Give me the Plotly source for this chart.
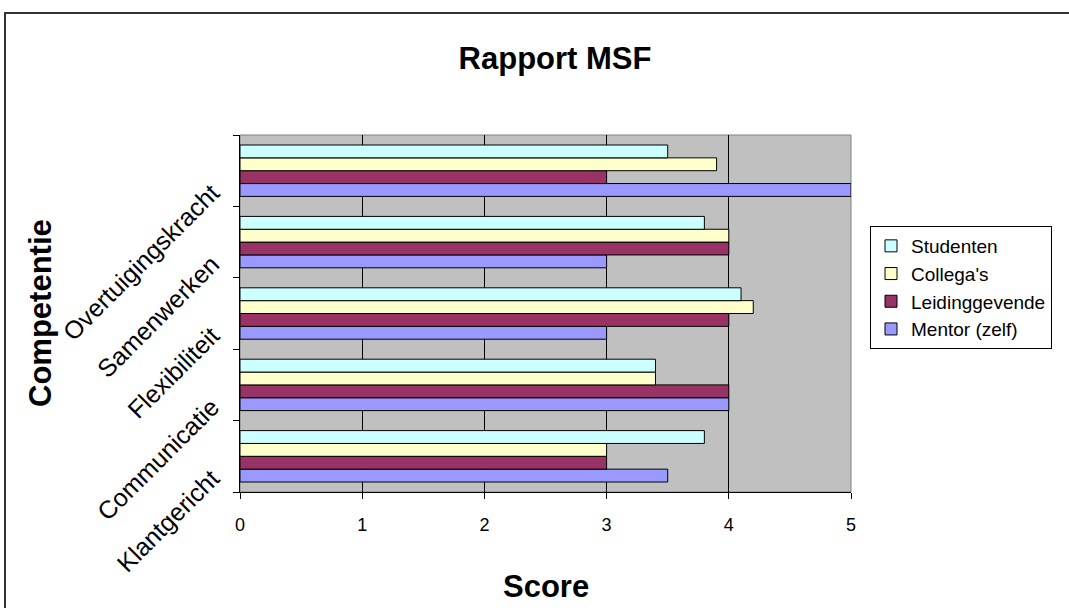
import plotly.graph_objects as go

categories = ["Klantgericht", "Communicatie", "Flexibiliteit", "Samenwerken", "Overtuigingskracht"]
studenten = [3.8, 3.4, 4.1, 3.8, 3.5]
collegas = [3.0, 3.4, 4.2, 4.0, 3.9]
leidinggevende = [3.0, 4.0, 4.0, 4.0, 3.0]
mentor = [3.5, 4.0, 3.0, 3.0, 5.0]
x_ticks = [0, 1, 2, 3, 4, 5]

series = [
    ("Mentor (zelf)", mentor, "#9999FF"),
    ("Leidinggevende", leidinggevende, "#993366"),
    ("Collega's", collegas, "#FFFFCC"),
    ("Studenten", studenten, "#CCFFFF"),
]

FONT = "Liberation Sans, Arial, sans-serif"

fig = go.Figure()
for name, vals, color in series:
    fig.add_trace(go.Bar(
        y=categories, x=vals, name=name, orientation="h",
        marker=dict(color=color, line=dict(color="#000000", width=1)),
    ))

W, H = 1069, 608
L, R, T, B = 240, 218, 135, 116
pw, ph = W - L - R, H - T - B

def px_x(p):
    return (p - L) / pw

def px_y(p):
    return (H - B - p) / ph

fig.update_layout(
    width=W, height=H,
    margin=dict(l=L, r=R, t=T, b=B, autoexpand=False),
    paper_bgcolor="#FFFFFF",
    plot_bgcolor="#C0C0C0",
    barmode="group",
    bargap=0.28,
    bargroupgap=0,
    font=dict(family=FONT, color="#000000"),
    title=dict(text="<b>Rapport MSF</b>", font=dict(size=31, family=FONT),
               xref="paper", x=px_x(555), xanchor="center",
               yref="container", y=1 - 58 / H, yanchor="middle"),
    legend=dict(
        x=px_x(870), y=px_y(226), xanchor="left", yanchor="top",
        traceorder="reversed",
        bgcolor="#FFFFFF", bordercolor="#000000", borderwidth=1,
        font=dict(size=19, family=FONT),
    ),
    xaxis=dict(
        range=[0, 5], tickvals=x_ticks, ticks="outside", ticklen=6,
        tickcolor="#000000", showline=True, linecolor="#000000", linewidth=1,
        showgrid=True, gridcolor="#000000", gridwidth=1, zeroline=False,
        tickfont=dict(size=18, family=FONT), ticklabelstandoff=10,
        fixedrange=True,
    ),
    yaxis=dict(
        categoryorder="array", categoryarray=categories,
        tickson="boundaries", ticks="outside", ticklen=6, tickcolor="#000000",
        showline=True, linecolor="#000000", linewidth=1, showgrid=False,
        tickangle=-45, tickfont=dict(size=25, family=FONT),
        ticklabelstandoff=22, ticklabelshift=19,
        fixedrange=True,
    ),
    annotations=[
        dict(text="<b>Score</b>", xref="paper", yref="paper",
             x=px_x(546), y=px_y(586), xanchor="center", yanchor="middle",
             showarrow=False, font=dict(size=31, family=FONT)),
        dict(text="<b>Competentie</b>", xref="paper", yref="paper",
             x=px_x(40), y=px_y(313), xanchor="center", yanchor="middle",
             textangle=-90, showarrow=False, font=dict(size=31, family=FONT)),
    ],
    shapes=[
        dict(type="rect", xref="paper", yref="paper", x0=0, x1=1, y0=0, y1=1,
             line=dict(color="#808080", width=1), layer="below"),
        dict(type="rect", xref="paper", yref="paper",
             x0=px_x(5), x1=px_x(1090), y0=px_y(630), y1=px_y(13),
             line=dict(color="#333333", width=2), layer="above"),
    ],
)

fig.write_html(
    "out.html",
    config={"displayModeBar": False},
    post_script="document.body.style.margin='0';document.body.style.overflow='hidden';",
)
